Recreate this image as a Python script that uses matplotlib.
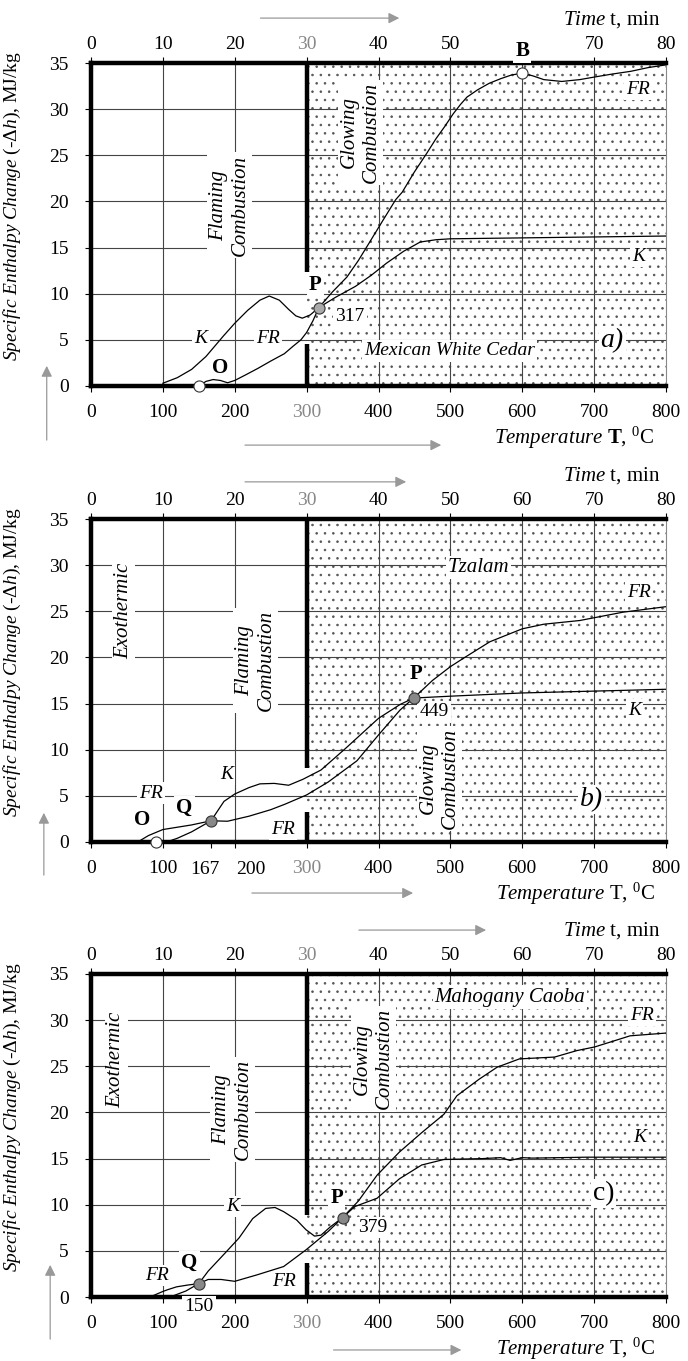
'''Specific enthalpy change vs temperature for three woods (a, b, c)'''
from matplotlib import pyplot as plt
from matplotlib.patches import Rectangle
from matplotlib.transforms import blended_transform_factory

plt.rcParams['font.family'] = 'Liberation Serif'
plt.rcParams['mathtext.fontset'] = 'custom'
plt.rcParams['mathtext.rm'] = 'Liberation Serif'
plt.rcParams['mathtext.it'] = 'Liberation Serif:italic'
plt.rcParams['mathtext.bf'] = 'Liberation Serif:bold'
plt.rcParams['hatch.color'] = '#555555'
plt.rcParams['hatch.linewidth'] = 0.6

TEMP_TICKS = [0, 100, 200, 300, 400, 500, 600, 700, 800]
TIME_TICKS = [0, 10, 20, 30, 40, 50, 60, 70, 80]
H_TICKS = [0, 5, 10, 15, 20, 25, 30, 35]

# a) Mexican White Cedar
A_K_T = [100, 120, 140, 160, 184, 200, 218, 235, 248, 262, 275, 285, 294, 305, 317,
         340, 368, 390, 411, 435, 458, 480, 500, 600, 700, 800]
A_K_H = [0.3, 0.9, 1.8, 3.2, 5.4, 6.8, 8.2, 9.3, 9.75, 9.3, 8.3, 7.6, 7.35, 7.7, 8.5,
         9.6, 10.8, 12.0, 13.3, 14.6, 15.6, 15.85, 15.95, 16.05, 16.15, 16.25]
A_FR_T = [150, 160, 170, 180, 190, 200, 215, 232, 250, 269, 281, 292, 300, 309, 317,
          336, 356, 372, 387, 405, 424, 433, 450, 467, 480, 492, 504, 514, 523, 538,
          554, 570, 585, 600, 615, 630, 655, 680, 702, 725, 751, 775, 800]
A_FR_H = [0, 0.5, 0.7, 0.6, 0.35, 0.6, 1.2, 1.9, 2.7, 3.5, 4.3, 5.0, 5.8, 7.1, 8.5,
          10.2, 11.8, 13.6, 15.5, 17.8, 20.2, 21.0, 23.2, 25.2, 26.8, 28.1, 29.5, 30.5,
          31.3, 32.1, 32.8, 33.3, 33.7, 33.9, 33.6, 33.2, 33.0, 33.2, 33.5, 33.8, 34.1,
          34.5, 34.8]
A_O = (150, 0)
A_P = (317, 8.5)
A_B = (600, 33.9)

# b) Tzalam
B_FR_T = [65, 80, 100, 120, 140, 167, 190, 220, 250, 270, 300, 330, 370, 400, 430, 449,
          475, 500, 520, 555, 600, 630, 680, 740, 800]
B_FR_H = [0, 0.7, 1.35, 1.6, 1.85, 2.3, 2.25, 2.8, 3.5, 4.1, 5.1, 6.5, 8.8, 11.6, 14.3,
          15.6, 17.5, 19.0, 20.0, 21.7, 23.1, 23.6, 24.0, 24.9, 25.5]
B_K_T = [105, 120, 140, 167, 185, 200, 220, 235, 255, 275, 295, 320, 355, 400, 430, 449,
         500, 600, 700, 800]
B_K_H = [0, 0.4, 1.1, 2.3, 4.4, 5.2, 5.9, 6.3, 6.35, 6.15, 6.8, 7.8, 10.2, 13.4, 14.9,
         15.6, 15.8, 16.15, 16.35, 16.55]
B_O = (90, 0)
B_Q = (167, 2.3)
B_P = (449, 15.6)

# c) Mahogany Caoba
C_FR_T = [85, 100, 107, 119, 135, 150, 163, 181, 200, 231, 268, 299, 330, 350, 372, 398,
          429, 460, 491, 509, 540, 565, 596, 645, 676, 701, 750, 800]
C_FR_H = [0.1, 0.6, 0.8, 1.1, 1.3, 1.45, 1.9, 1.9, 1.7, 2.4, 3.3, 5.1, 7.1, 8.6, 10.4,
          13.2, 15.7, 17.8, 19.8, 21.8, 23.6, 24.9, 25.8, 26.0, 26.7, 27.1, 28.3, 28.6]
C_K_T = [110, 132, 150, 163, 187, 206, 225, 243, 256, 268, 286, 299, 311, 320, 333, 350,
         367, 398, 429, 460, 491, 546, 570, 583, 600, 614, 689, 800]
C_K_H = [0, 0.65, 1.45, 2.8, 4.8, 6.4, 8.5, 9.6, 9.7, 9.25, 8.35, 7.3, 6.6, 6.7, 7.6, 8.6,
         9.8, 10.7, 12.8, 14.3, 14.9, 15.0, 15.1, 14.8, 15.1, 15.05, 15.15, 15.15]
C_Q = (150, 1.45)
C_P = (350, 8.6)

WHITE = dict(facecolor='white', edgecolor='none', pad=1.5)
ARROW = dict(arrowstyle='-|>', color='#999999', lw=0.9, mutation_scale=16)
YLABEL = r'$\mathit{Specific\ Enthalpy\ Change\ }$(-$\mathit{Δh}$), MJ/kg'


def note(ax, x, y, s, size=14, **kw):
    kw.setdefault('ha', 'center')
    kw.setdefault('va', 'center')
    ax.text(x, y, s, fontsize=size, bbox=WHITE, zorder=4, clip_on=False, **kw)


def setup(ax, wall, temp_label, arrows, extra_tick=None, skip_time=None):
    ax.set_xlim(0, 800)
    ax.set_ylim(0, 35)
    ax.add_patch(Rectangle((300, 0), 500, 35, facecolor='white', edgecolor='#555555',
                           lw=0, hatch='..', zorder=0.5))
    for T in [100, 200, 400, 500, 600, 700]:
        ax.plot([T, T], [0, 35], color='#444444', lw=0.8, zorder=1)
    for h in H_TICKS[1:-1]:
        ax.plot([0, 800], [h, h], color='#444444', lw=0.8, zorder=1)
    # thick wall at 300 C
    ax.plot([300, 300], [wall[0], 35], color='black', lw=3.2, zorder=3,
            solid_capstyle='butt')
    ax.plot([300, 300], [0, wall[1]], color='black', lw=3.2, zorder=3,
            solid_capstyle='butt')

    for s in ['left', 'top', 'bottom']:
        ax.spines[s].set_linewidth(3.2)
    ax.spines['right'].set_linewidth(0.8)
    ax.spines['right'].set_color('#888888')

    xt = list(TEMP_TICKS)
    labels = [str(t) for t in xt]
    if extra_tick is not None:
        # crowded labels are set by hand a little apart, as in the source
        xt = sorted(xt + [extra_tick])
        labels = ['' if t in (extra_tick, 200) else str(t) for t in xt]
        trans = blended_transform_factory(ax.transData, ax.transAxes)
        for t, shift in [(extra_tick, -9), (200, 22)]:
            ax.text(t + shift, -0.058, str(t), transform=trans, ha='center',
                    va='top', fontsize=14)
    ax.set_xticks(xt, labels=labels)
    ax.set_yticks(H_TICKS)
    ax.tick_params(axis='x', length=4, width=0.8, pad=9, labelsize=14)
    ax.tick_params(axis='y', length=4, width=0.8, pad=12, labelsize=14)
    for lab in ax.get_xticklabels():
        if lab.get_text() == '300':
            lab.set_color('#888888')

    top = ax.secondary_xaxis('top', functions=(lambda T: T / 10, lambda t: t * 10))
    tlabels = ['' if t == skip_time else str(t) for t in TIME_TICKS]
    top.set_xticks(TIME_TICKS, labels=tlabels)
    top.tick_params(length=4, width=0.8, pad=3, labelsize=14)
    for s in top.spines.values():
        s.set_visible(False)
    for lab in top.get_xticklabels():
        if lab.get_text() == '30':
            lab.set_color('#888888')

    ax.set_ylabel(YLABEL, fontsize=14)
    ax.yaxis.set_label_coords(-0.118, 0.556)
    ax.text(0.99, 1.135, r'$\mathit{Time}$ t, min', transform=ax.transAxes,
            ha='right', va='center', fontsize=15)
    ax.text(0.98, -0.16, temp_label, transform=ax.transAxes,
            ha='right', va='center', fontsize=15)

    top_ar, bot_ar, up_ar = arrows
    ax.annotate('', xy=(top_ar[1], top_ar[2]), xytext=(top_ar[0], top_ar[2]),
                xycoords='axes fraction', arrowprops=ARROW, annotation_clip=False)
    ax.annotate('', xy=(bot_ar[1], bot_ar[2]), xytext=(bot_ar[0], bot_ar[2]),
                xycoords='axes fraction', arrowprops=ARROW, annotation_clip=False)
    ax.annotate('', xy=(up_ar[0], up_ar[2]), xytext=(up_ar[0], up_ar[1]),
                xycoords='axes fraction', arrowprops=ARROW, annotation_clip=False)


def curve(ax, T, H):
    ax.plot(T, H, color='black', lw=0.9, zorder=5)


def dot(ax, pt, color):
    ax.plot([pt[0]], [pt[1]], 'o', ms=8, mfc=color, mec='#333333', mew=0.8,
            zorder=6, clip_on=False)


if __name__ == "__main__":
    fig = plt.figure(figsize=(6.88, 13.61), dpi=100)
    left, width, height = 91 / 688, 575 / 688, 323 / 1361
    ax_a = fig.add_axes([left, 1 - 386 / 1361, width, height])
    ax_b = fig.add_axes([left, 1 - 842 / 1361, width, height])
    ax_c = fig.add_axes([left, 1 - 1297 / 1361, width, height])

    # ---- a) ----
    setup(ax_a, (12.4, 4.6), r'$\mathit{Temperature}$ $\mathbf{T}$, $^0$C',
          arrows=((0.290, 0.541, 1.139), (0.263, 0.614, -0.183),
                  (-0.077, -0.176, 0.071)), skip_time=60)
    curve(ax_a, A_K_T, A_K_H)
    curve(ax_a, A_FR_T, A_FR_H)
    note(ax_a, 193, 19.6, 'Flaming\nCombustion', size=15, style='italic',
         rotation=90, linespacing=1.2)
    note(ax_a, 375, 27.5, 'Glowing\nCombustion', size=15, style='italic',
         rotation=90, linespacing=1.2)
    note(ax_a, 153, 5.2, 'K', style='italic')
    note(ax_a, 246, 5.2, 'FR', style='italic')
    note(ax_a, 179, 2.0, 'O', size=15, weight='bold')
    note(ax_a, 312, 10.9, 'P', size=15, weight='bold')
    note(ax_a, 360, 7.5, '317')
    note(ax_a, 499, 3.8, 'Mexican White Cedar', style='italic')
    note(ax_a, 725, 4.9, 'a)', size=20, style='italic')
    note(ax_a, 762, 14.0, 'K', style='italic')
    note(ax_a, 761, 32.1, 'FR', style='italic')
    note(ax_a, 600, 36.3, 'B', size=15, weight='bold')
    dot(ax_a, A_O, 'white')
    dot(ax_a, A_P, '#aaaaaa')
    dot(ax_a, A_B, 'white')

    # ---- b) ----
    setup(ax_b, (8.0, 3.2), r'$\mathit{Temperature}$ T, $^0$C',
          arrows=((0.263, 0.553, 1.115), (0.275, 0.565, -0.158),
                  (-0.082, -0.111, 0.099)), extra_tick=167)
    curve(ax_b, B_FR_T, B_FR_H)
    curve(ax_b, B_K_T, B_K_H)
    note(ax_b, 45, 25.0, 'Exothermic', size=15, style='italic', rotation=90)
    note(ax_b, 229, 19.7, 'Flaming\nCombustion', size=15, style='italic',
         rotation=90, linespacing=1.2)
    note(ax_b, 485, 6.9, 'Glowing\nCombustion', size=15, style='italic',
         rotation=90, linespacing=1.2)
    note(ax_b, 539, 29.7, 'Tzalam', size=15, style='italic')
    note(ax_b, 763, 27.0, 'FR', style='italic')
    note(ax_b, 756, 14.3, 'K', style='italic')
    note(ax_b, 477, 14.1, '449')
    note(ax_b, 452, 18.2, 'P', size=15, weight='bold')
    note(ax_b, 189, 7.3, 'K', style='italic')
    note(ax_b, 84, 5.3, 'FR', style='italic')
    note(ax_b, 130, 3.7, 'Q', size=15, weight='bold')
    note(ax_b, 71, 2.4, 'O', size=15, weight='bold')
    note(ax_b, 267, 1.4, 'FR', style='italic')
    note(ax_b, 697, 4.6, 'b)', size=20, style='italic')
    dot(ax_b, B_O, 'white')
    dot(ax_b, B_Q, '#888888')
    dot(ax_b, B_P, '#888888')

    # ---- c) ----
    setup(ax_c, (8.9, 3.7), r'$\mathit{Temperature}$ T, $^0$C',
          arrows=((0.461, 0.692, 1.136), (0.417, 0.649, -0.164),
                  (-0.071, -0.139, 0.108)))
    curve(ax_c, C_FR_T, C_FR_H)
    curve(ax_c, C_K_T, C_K_H)
    note(ax_c, 35, 25.7, 'Exothermic', size=15, style='italic', rotation=90)
    note(ax_c, 197, 20.3, 'Flaming\nCombustion', size=15, style='italic',
         rotation=90, linespacing=1.2)
    note(ax_c, 393, 25.8, 'Glowing\nCombustion', size=15, style='italic',
         rotation=90, linespacing=1.2)
    note(ax_c, 583, 32.5, 'Mahogany Caoba', size=15, style='italic')
    note(ax_c, 766, 30.5, 'FR', style='italic')
    note(ax_c, 763, 17.3, 'K', style='italic')
    note(ax_c, 713, 11.2, 'c)', size=20)
    note(ax_c, 342, 10.7, 'P', size=15, weight='bold')
    note(ax_c, 392, 7.5, '379')
    note(ax_c, 197, 9.8, 'K', style='italic')
    note(ax_c, 92, 2.3, 'FR', style='italic')
    note(ax_c, 268, 1.7, 'FR', style='italic')
    note(ax_c, 137, 3.7, 'Q', size=15, weight='bold')
    note(ax_c, 150, -1.0, '150')
    dot(ax_c, C_Q, '#888888')
    dot(ax_c, C_P, '#888888')

    fig.savefig('out.png', dpi=100)
